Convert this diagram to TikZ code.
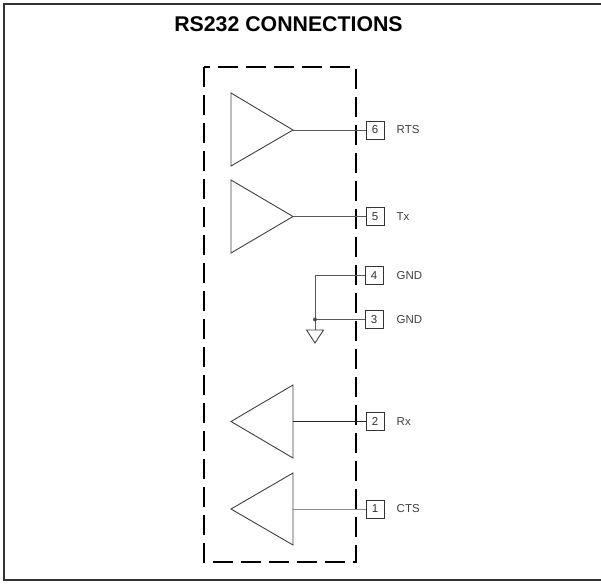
\documentclass[tikz,border=0pt]{standalone}
\usepackage{fontspec}
\setmainfont{Liberation Sans}
\begin{document}
\begin{tikzpicture}[x=1pt,y=-1pt,
  wire/.style={draw=black!65,line width=0.9pt},
  amp/.style={draw=black!75,line width=0.9pt,line join=miter},
  pinbox/.style={draw=black!80,line width=0.9pt,minimum width=18pt,minimum height=18pt,inner sep=0pt,font=\fontsize{11.5}{12}\selectfont,text=black!80},
  pinlabel/.style={anchor=west,inner sep=0pt,font=\fontsize{11.5}{12}\selectfont,text=black!75},
  frame/.style={draw=black!80,line width=1.6pt},
  module/.style={draw=black,line width=1.1pt,dash pattern=on 20pt off 8pt}]
\useasboundingbox (0,0) rectangle (601,584);
% outer frame (open on the right)
\draw[frame] (610,4) -- (4,4) -- (4,580) -- (610,580);
% title
\node[font=\bfseries\fontsize{21.3}{24}\selectfont,inner sep=0pt] (title) at (288.5,24) {RS232 CONNECTIONS};
% dashed module outline
\draw[module] (204,67) rectangle (356,562);
% pins
\node[pinbox] (p6) at (375,130) {6};
\node[pinbox] (p5) at (375,216.5) {5};
\node[pinbox] (p4) at (374,275.5) {4};
\node[pinbox] (p3) at (374,319.5) {3};
\node[pinbox] (p2) at (375,421.5) {2};
\node[pinbox] (p1) at (375,509) {1};
\node[pinlabel] (l6) at (396.5,130) {RTS};
\node[pinlabel] (l5) at (396.5,216.5) {Tx};
\node[pinlabel] (l4) at (396.5,275.5) {GND};
\node[pinlabel] (l3) at (396.5,319.5) {GND};
\node[pinlabel] (l2) at (396.5,421.5) {Rx};
\node[pinlabel] (l1) at (396.5,509) {CTS};
% drivers (pointing right)
\coordinate (d6) at (293,130);
\coordinate (d5) at (293,216.5);
\draw[amp] (231,93) -- (d6) -- (231,166) -- cycle;
\draw[amp] (231,180) -- (d5) -- (231,253) -- cycle;
\draw[wire] (d6) -- (p6.west);
\draw[wire] (d5) -- (p5.west);
% receivers (pointing left)
\coordinate (r2) at (293,421.5);
\coordinate (r1) at (293,509);
\draw[amp] (293,385) -- (231,421.5) -- (293,458) -- cycle;
\draw[amp] (293,473) -- (231,509) -- (293,545) -- cycle;
\draw[wire,draw=black!85] (r2) -- (p2.west);
\draw[wire,draw=black!45] (r1) -- (p1.west);
% ground
\coordinate (gdot) at (315,319.5);
\coordinate (gtop) at (315,330);
\draw[wire] (p4.west) -| (gdot) -- (p3.west);
\draw[wire] (gdot) -- (gtop);
\draw[amp] (306.5,330) -- (323.5,330) -- (315,343) -- cycle;
\fill[black!70] (gdot) circle (2pt);
\end{tikzpicture}
\end{document}
